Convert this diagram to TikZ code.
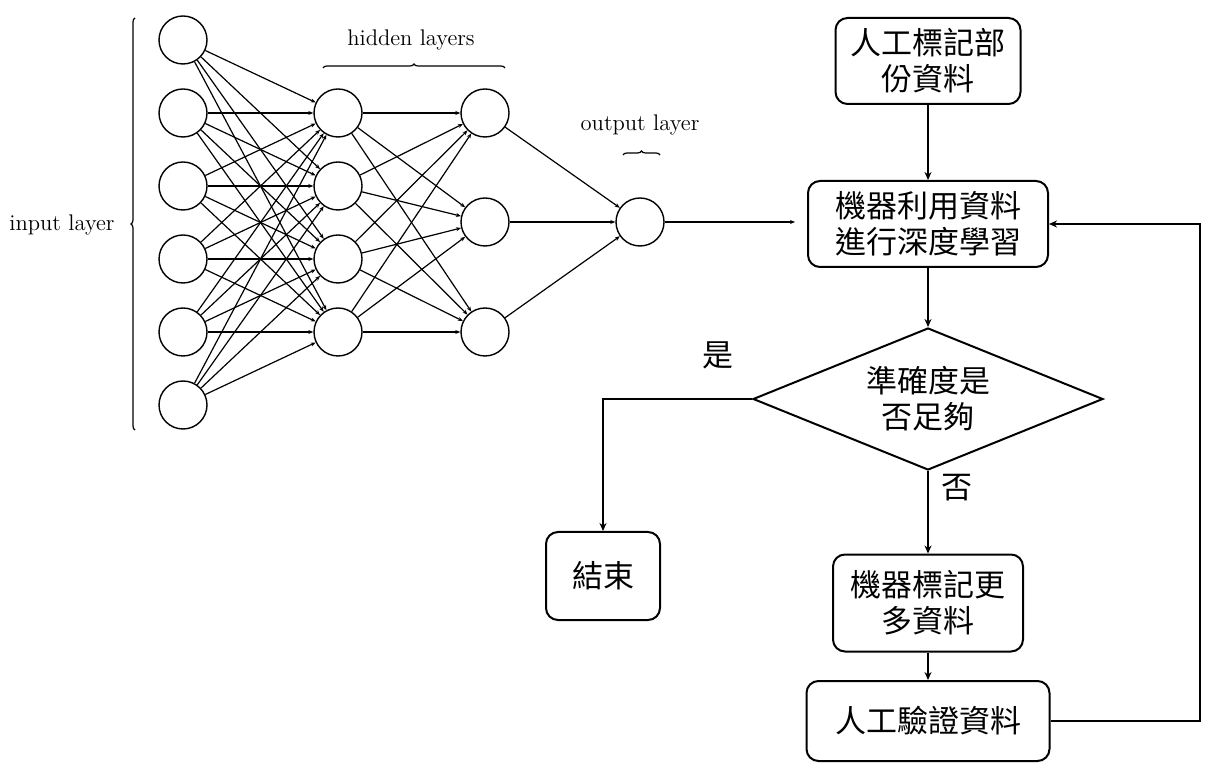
\documentclass[tikz,border=0pt]{standalone}
\usepackage{fontspec}
\newfontfamily\cjk{Noto Sans CJK TC}
\usetikzlibrary{arrows.meta,shapes.geometric,decorations.pathreplacing}
\begin{document}
\begin{tikzpicture}[x=0.5pt,y=-0.5pt,
  neuron/.style={circle,draw,line width=0.7pt,minimum size=24pt,inner sep=0pt},
  syn/.style={line width=0.6pt,-{Stealth[length=2.5pt,width=2pt]}},
  layerlbl/.style={font=\fontsize{11.3}{13}\selectfont},
  lbrace/.style={decorate,decoration={brace,amplitude=2pt},line width=0.6pt},
  cjkfont/.style={font=\cjk\fontsize{15.5}{18}\selectfont},
  box/.style={draw,rounded corners=6pt,line width=1pt,align=center,cjkfont,inner sep=0pt},
  flow/.style={line width=0.7pt,-{Stealth[length=4pt,width=3.5pt]}}]
\useasboundingbox (0,0) rectangle (1208,763);

% neural network
\foreach \i in {1,...,6} \node[neuron] (I\i) at (183,{40+73*(\i-1)}) {};
\foreach \i in {1,...,4} \node[neuron] (H\i) at (338,{113+73*(\i-1)}) {};
\foreach \i/\y in {1/113,2/222,3/332} \node[neuron] (G\i) at (485,\y) {};
\node[neuron] (O) at (640,222) {};

\foreach \a in {1,...,6} \foreach \b in {1,...,4} \draw[syn] (I\a) -- (H\b);
\foreach \a in {1,...,4} \foreach \b in {1,...,3} \draw[syn] (H\a) -- (G\b);
\foreach \a in {1,...,3} \draw[syn] (G\a) -- (O);

\node[layerlbl] (inlbl) at (62,225) {input layer};
\node[layerlbl] (hidlbl) at (411,40) {hidden layers};
\node[layerlbl] (outlbl) at (640,125) {output layer};
\draw[lbrace] (135,430) -- (135,18);
\draw[lbrace] (323,68) -- (505,68);
\draw[lbrace] (623,155) -- (660,155);

\coordinate (outend) at (795,222);
\draw[syn] (O) -- (outend);

% flowchart
\node[box,minimum width=92.5pt,minimum height=43pt] (b1) at (928,61) {人工標記部\\份資料};
\node[box,minimum width=120pt,minimum height=43pt] (b2) at (928,224) {機器利用資料\\進行深度學習};
\node[draw,diamond,aspect=2.46,line width=1pt,minimum width=175pt,minimum height=71pt,inner sep=0pt,align=center,cjkfont] (dia) at (928,399) {準確度是\\否足夠};
\node[box,minimum width=57pt,minimum height=44pt] (end) at (603,576) {結束};
\node[box,minimum width=95pt,minimum height=48.5pt] (b3) at (928,603) {機器標記更\\多資料};
\node[box,minimum width=121.5pt,minimum height=40pt] (b4) at (928,721) {人工驗證資料};
\node[cjkfont] (yes) at (718,355) {是};
\node[cjkfont] (no) at (957,488) {否};
\coordinate (ret) at (1200,224);

\draw[flow] (b1) -- (b2);
\draw[flow] (b2) -- (dia);
\draw[flow] (dia.west) -| (end.north);
\draw[flow] (dia.south) -- (b3);
\draw[flow] (b3) -- (b4);
\draw[flow] (b4.east) -| (ret) -- (b2.east);
\end{tikzpicture}
\end{document}
